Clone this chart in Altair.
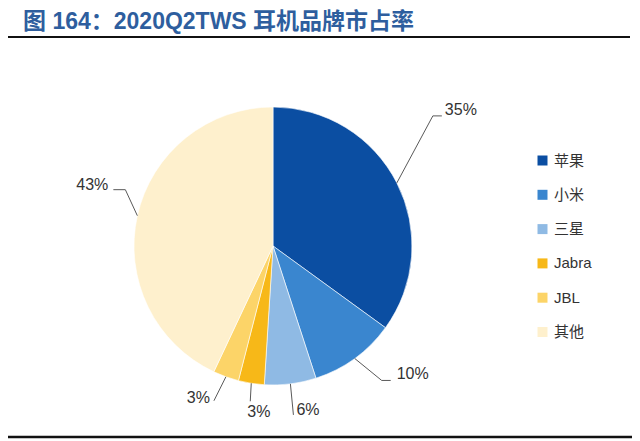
import math
import altair as alt
import pandas as pd

# ---- data ----
brands = ["苹果", "小米", "三星", "Jabra", "JBL", "其他"]
shares = [35, 10, 6, 3, 3, 43]
colors = ["#0B4EA2", "#3A86CF", "#8FBAE4", "#F7B818", "#FCD468", "#FEF0CD"]
title_text = "图 164：2020Q2TWS 耳机品牌市占率"

# ---- label placement (leader-line geometry, Excel-style manual placement) ----
elbow_dx = [36, 27, 3, -1, -12, -12]
elbow_dy = [-67, 22, 31, 18, 24, -26]
tail_dx = [9, 9, 0, 0, 0, -12]
label_dx = [3, 6, 3, -3, -4, -5]
label_dy = [-6, -6, -5, 11, -3, -5]
label_align = ["left", "left", "left", "left", "right", "right"]

W, H = 624, 433
CX, CY, R = 265, 238, 139

pie_df = pd.DataFrame({"brand": brands, "share": shares, "idx": range(len(brands))})

total = sum(shares)
cum = 0
line_rows, label_rows = [], []
for i, (b, s) in enumerate(zip(brands, shares)):
    mid = (cum + s / 2) / total * 2 * math.pi
    cum += s
    sx = CX + R * math.sin(mid)
    sy = CY - R * math.cos(mid)
    ex, ey = sx + elbow_dx[i], sy + elbow_dy[i]
    pts = [(sx, sy), (ex, ey)]
    if tail_dx[i]:
        pts.append((ex + tail_dx[i], ey))
    for k, (px, py) in enumerate(pts):
        line_rows.append({"brand": b, "pt": k, "px": px, "py": py})
    lx, ly = pts[-1]
    label_rows.append({"brand": b, "label": f"{s}%", "px": lx + label_dx[i],
                       "py": ly + label_dy[i], "align": label_align[i]})

line_df = pd.DataFrame(line_rows)
label_df = pd.DataFrame(label_rows)
one = pd.DataFrame({"a": [0]})

pie = alt.Chart(pie_df).mark_arc(outerRadius=R, stroke="white", strokeWidth=0.6).encode(
    theta=alt.Theta("share:Q", stack=True),
    order=alt.Order("idx:Q"),
    color=alt.Color(
        "brand:N",
        scale=alt.Scale(domain=brands, range=colors),
        sort=brands,
        legend=alt.Legend(
            title=None, orient="none", legendX=527, legendY=145,
            symbolType="square", symbolSize=100, symbolStrokeWidth=0,
            labelFont="Liberation Sans, Noto Sans CJK SC", labelFontSize=15,
            labelColor="#333333", rowPadding=18.3, labelOffset=4, padding=0,
        ),
    ),
    x=alt.value(CX),
    y=alt.value(CY),
)

lines = alt.Chart(line_df).mark_line(color="#595959", strokeWidth=1).encode(
    x=alt.X("px:Q", scale=None, axis=None),
    y=alt.Y("py:Q", scale=None, axis=None),
    detail="brand:N",
    order="pt:Q",
)

def label_layer(al):
    return alt.Chart(label_df).transform_filter(alt.datum.align == al).mark_text(
        align=al, baseline="middle", font="Liberation Sans", fontSize=16, color="#333333"
    ).encode(
        x=alt.X("px:Q", scale=None, axis=None),
        y=alt.Y("py:Q", scale=None, axis=None),
        text="label:N",
    )

title = alt.Chart(one).mark_text(
    text=title_text, align="left", baseline="middle",
    font="Liberation Sans, Noto Sans CJK SC", fontSize=23, fontWeight="bold", color="#2E5E9E",
).encode(x=alt.value(15), y=alt.value(13.5))

top_rule = alt.Chart(one).mark_rule(color="#111111", strokeWidth=2).encode(
    x=alt.value(0), x2=alt.value(W - 2), y=alt.value(29))
bottom_rule = alt.Chart(one).mark_rule(color="#111111", strokeWidth=2.5).encode(
    x=alt.value(0), x2=alt.value(W), y=alt.value(429))

chart = alt.layer(pie, lines, label_layer("left"), label_layer("right"), title, top_rule, bottom_rule).properties(
    width=W, height=H, padding=0, autosize=alt.AutoSizeParams(type="none")
).configure_view(stroke=None)

chart.save("out.html", embed_options={"renderer": "svg", "actions": False})
